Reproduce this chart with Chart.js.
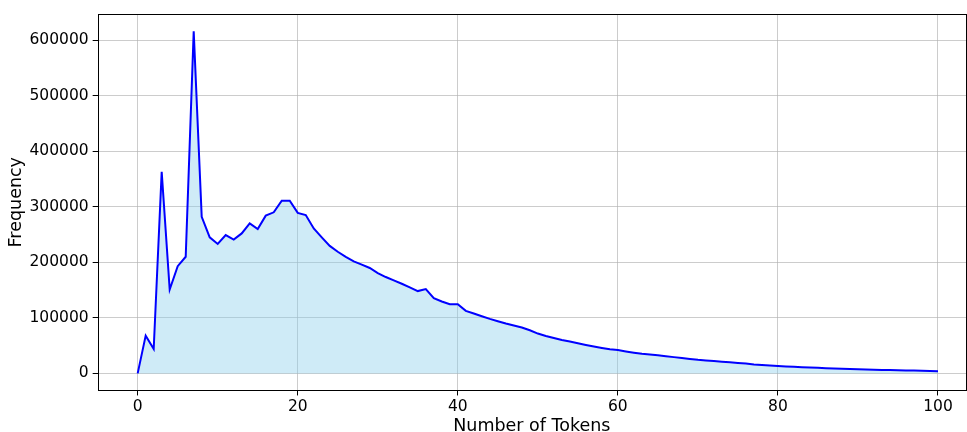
<!DOCTYPE html>
<html>
<head>
<meta charset="utf-8">
<script src="https://cdn.jsdelivr.net/npm/chart.js@4"></script>
<style>
  html, body { margin: 0; padding: 0; background: #fff; }
  #wrap { width: 967px; height: 432px; }
</style>
</head>
<body>
<div id="wrap"><canvas id="token_freq"></canvas></div>
<script>
const tokenCounts = [
  0, 1, 2, 3, 4, 5, 6, 7, 8, 9,
  10, 11, 12, 13, 14, 15, 16, 17, 18, 19,
  20, 21, 22, 23, 24, 25, 26, 27, 28, 29,
  30, 31, 32, 33, 34, 35, 36, 37, 38, 39,
  40, 41, 42, 43, 44, 45, 46, 47, 48, 49,
  50, 51, 52, 53, 54, 55, 56, 57, 58, 59,
  60, 61, 62, 63, 64, 65, 66, 67, 68, 69,
  70, 71, 72, 73, 74, 75, 76, 77, 78, 79,
  80, 81, 82, 83, 84, 85, 86, 87, 88, 89,
  90, 91, 92, 93, 94, 95, 96, 97, 98, 99,
  100
];

const frequencies = [
  0, 68000, 44000, 363000, 151000, 193000, 210000, 616000, 282000, 245000,
  233000, 249000, 241000, 252000, 270000, 260000, 284000, 290000, 311000, 311000,
  289000, 285000, 261000, 245000, 229500, 219000, 209700, 201800, 195800, 189800,
  180700, 173500, 167500, 161400, 154900, 148200, 151800, 135500, 129500, 124700,
  124700, 112600, 107800, 103000, 98100, 94000, 89800, 86200, 82600, 77700,
  71700, 67400, 63800, 60200, 57300, 54200, 51200, 48300, 45700, 43400,
  42000, 39500, 37300, 35200, 34000, 32500, 30800, 29300, 27700, 26100,
  24500, 23300, 22100, 21000, 19900, 18800, 17600, 16000, 15200, 14200,
  13300, 12600, 11900, 11200, 10600, 10000, 9400, 8900, 8400, 7900,
  7400, 7000, 6600, 6200, 5900, 5600, 5300, 5000, 4600, 4300,
  4000
];

const xTicks = [0, 20, 40, 60, 80, 100];
const yTicks = [0, 100000, 200000, 300000, 400000, 500000, 600000];

const font = "'DejaVu Sans', sans-serif";
const gridColor = 'rgba(176, 176, 176, 0.65)';

// matplotlib-style box round the plot area
const frame = {
  id: 'frame',
  afterDraw(chart) {
    let { ctx, chartArea: a } = chart;
    ctx.save();
    ctx.strokeStyle = '#000';
    ctx.lineWidth = 1;
    ctx.strokeRect(Math.round(a.left) + 0.5, Math.round(a.top) + 0.5,
                   Math.round(a.right - a.left), Math.round(a.bottom - a.top));
    ctx.restore();
  }
};

let data = {
  datasets: [
    {
      data: tokenCounts.map((x, i) => ({ x: x, y: frequencies[i] })),
      borderColor: '#0000ff',
      borderWidth: 2,
      backgroundColor: 'rgba(135, 206, 235, 0.4)',
      fill: 'origin',
      pointRadius: 0,
      tension: 0
    }
  ]
};

let options = {
  responsive: true,
  maintainAspectRatio: false,
  animation: false,
  layout: { padding: { left: 0, right: 1, top: 14, bottom: -3 } },
  plugins: {
    legend: { display: false },
    tooltip: { enabled: false }
  },
  scales: {
    x: {
      type: 'linear',
      min: -5,
      max: 103.5,
      afterBuildTicks: (scale) => { scale.ticks = xTicks.map(v => ({ value: v })); },
      grid: { color: gridColor, tickColor: '#000', tickLength: 5 },
      border: { display: false },
      ticks: { color: '#000', padding: 2.5, maxRotation: 0,
               font: { family: font, size: 15.5, lineHeight: 1.1 } },
      title: { display: true, text: 'Number of Tokens', color: '#000', padding: { top: 0, bottom: 0 },
               font: { family: font, size: 17.5, lineHeight: 1 } }
    },
    y: {
      min: -30700,
      max: 647000,
      afterBuildTicks: (scale) => { scale.ticks = yTicks.map(v => ({ value: v })); },
      grid: { color: gridColor, tickColor: '#000', tickLength: 5 },
      border: { display: false },
      ticks: { color: '#000', padding: 4, font: { family: font, size: 15.5 }, callback: (v) => String(v) },
      title: { display: true, text: 'Frequency', color: '#000', padding: { top: 8, bottom: 0 },
               font: { family: font, size: 17.5, lineHeight: 1 } }
    }
  }
};

new Chart('token_freq', { type: 'line', data, options, plugins: [frame] });
</script>
</body>
</html>
